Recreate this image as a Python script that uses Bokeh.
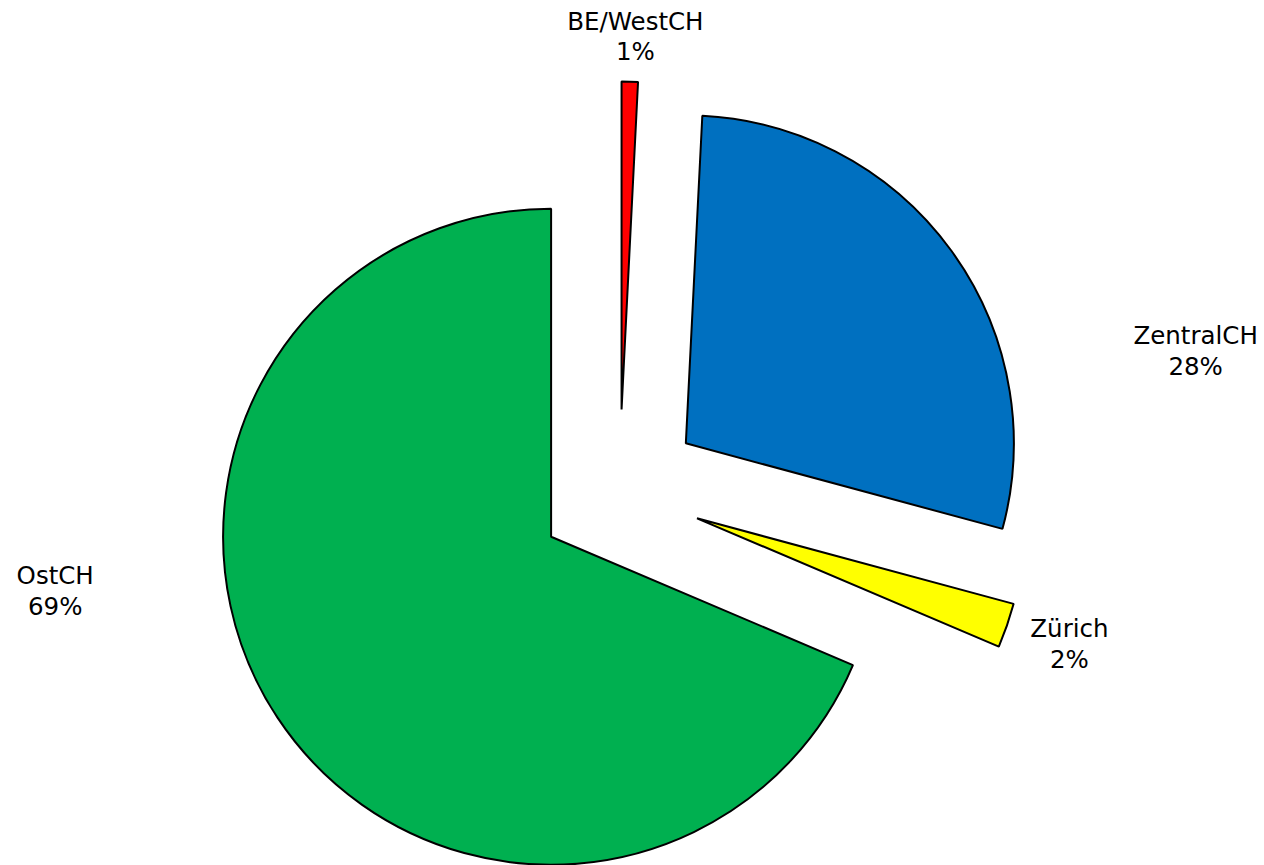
import math
from bokeh.plotting import figure
from bokeh.models import Range1d, ColumnDataSource
from bokeh.core.properties import value
from bokeh.embed import file_html
from bokeh.resources import INLINE

# ---- data (clockwise from 12 o'clock) ----
regions = ["BE/WestCH", "ZentralCH", "Zürich", "OstCH"]
shares = [0.8, 28.4, 2.2, 68.6]
colors = ["#FF0000", "#0070C0", "#FFFF00", "#00B050"]

# ---- layout ----
W, H = 1264, 865
CX, CY = 619, H - 491
R = 328
EXPLODE = 82
# label placement: (angle in degrees, distance from pie centre)
label_polar = [(88.0, 455), (13.7, 593), (-18.7, 475), (190.0, 573)]

total = sum(shares)
xs, ys, starts, ends, texts, lx, ly = [], [], [], [], [], [], []
a = math.pi / 2
for i, v in enumerate(shares):
    span = 2 * math.pi * v / total
    mid = a - span / 2
    xs.append(CX + EXPLODE * math.cos(mid))
    ys.append(CY + EXPLODE * math.sin(mid))
    starts.append(a - span)
    ends.append(a)
    a -= span
    ang, dist = label_polar[i]
    lx.append(CX + dist * math.cos(math.radians(ang)))
    ly.append(CY + dist * math.sin(math.radians(ang)))
    texts.append(f"{regions[i]}\n{round(100 * v / total)}%")

src = ColumnDataSource(dict(x=xs, y=ys, start=starts, end=ends, color=colors))
lsrc = ColumnDataSource(dict(x=lx, y=ly, text=texts))

p = figure(width=W, height=H, x_range=Range1d(0, W), y_range=Range1d(0, H),
           output_backend="svg", toolbar_location=None, min_border=0)
p.axis.visible = False
p.grid.visible = False
p.outline_line_color = None
p.background_fill_color = "white"
p.border_fill_color = "white"

p.wedge(x="x", y="y", radius=R, start_angle="start", end_angle="end",
        direction="anticlock", fill_color="color", line_color="black",
        line_width=2, source=src)

p.text(x="x", y="y", text="text", source=lsrc, text_align="center",
       text_baseline="middle", text_font=value("DejaVu Sans"),
       text_font_size="24.5px", text_color="black", text_line_height=1.05)

open("out.html", "w").write(file_html(p, INLINE))
